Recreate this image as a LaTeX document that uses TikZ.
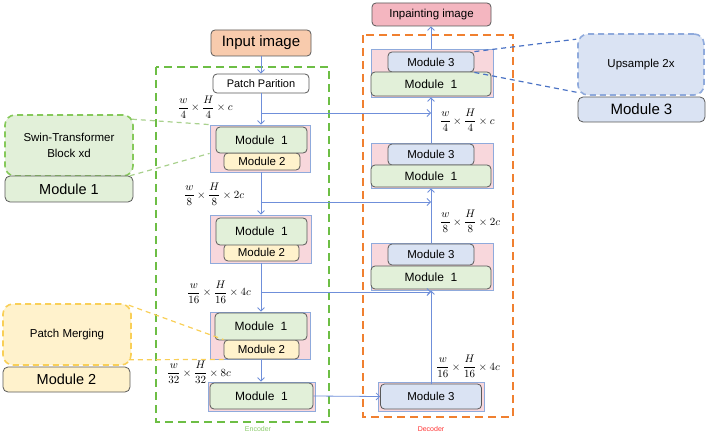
\documentclass[tikz,border=0pt]{standalone}
\usepackage{amsmath}
\usepackage[no-math]{fontspec}
\setmainfont{Liberation Sans}
\usetikzlibrary{arrows.meta}
\definecolor{gfill}{HTML}{E2F0D9}
\definecolor{yfill}{HTML}{FFF2CC}
\definecolor{bfill}{HTML}{DAE3F3}
\definecolor{pinkbg}{HTML}{F8D7DC}
\definecolor{stageline}{HTML}{8FAADC}
\definecolor{inpfill}{HTML}{F8CBAD}
\definecolor{outfill}{HTML}{F4B6C0}
\definecolor{arrowc}{HTML}{6F8FDA}
\definecolor{encc}{HTML}{6DBE45}
\definecolor{decc}{HTML}{F08030}
\definecolor{gborder}{HTML}{595959}
\definecolor{swinb}{HTML}{86C95A}
\definecolor{mergeb}{HTML}{F9CF57}
\definecolor{upb}{HTML}{8FAADC}
\definecolor{gline}{HTML}{A9D18E}
\definecolor{yline}{HTML}{F9CF57}
\definecolor{bline}{HTML}{4A72C4}
\newcommand{\fs}[1]{\fontsize{#1}{\dimexpr #1pt*6/5\relax}\selectfont}
\newcommand{\fr}[2]{\dfrac{\mathstrut #1}{\mathstrut #2}}
\begin{document}
\begin{tikzpicture}[x=1pt,y=-1pt,
  box/.style={draw=gborder, rounded corners=4pt, line width=0.8pt, inner sep=0pt, align=center},
  modone/.style={box, fill=gfill},
  modtwo/.style={box, fill=yfill},
  modthree/.style={box, fill=bfill},
  stagebg/.style={draw=stageline, fill=pinkbg, line width=0.8pt, inner sep=0pt},
  flow/.style={draw=arrowc, line width=0.8pt, -{Straight Barb[length=3.5pt,width=7pt]}},
  callout/.style={rounded corners=10pt, line width=1.6pt, dash pattern=on 6pt off 4pt, inner sep=0pt, align=center},
  mathlbl/.style={anchor=west, inner sep=0pt, font=\fs{11}},
]
\useasboundingbox (0,0) rectangle (708,435);

% containers
\draw[encc, line width=2pt, dash pattern=on 8pt off 5pt] (156,67) rectangle (329,422);
\draw[decc, line width=2pt, dash pattern=on 8pt off 5pt] (363,35) rectangle (513,417);
\node[text=encc!80!white, font=\fs{7}] (enclbl) at (258,429) {Encoder};
\node[text=red!80!white, font=\fs{7}] (declbl) at (431,429) {Decoder};

% encoder column
\node[box, fill=inpfill, minimum width=100pt, minimum height=26pt, font=\fs{15}] (inp) at (261,43) {Input image};
\node[box, fill=white, minimum width=96pt, minimum height=19pt, font=\fs{11}] (pp) at (261,83.5) {Patch Parition};

\node[stagebg, minimum width=100pt, minimum height=47pt] (e1bg) at (260,148.5) {};
\node[modtwo, minimum width=76pt, minimum height=17pt, font=\fs{11.5}] (e1m2) at (262,161.5) {Module 2};
\node[modone, minimum width=91pt, minimum height=26pt, font=\fs{12}] (e1m1) at (261.5,140) {Module\ \ 1};

\node[stagebg, minimum width=101pt, minimum height=48pt] (e2bg) at (260.5,239) {};
\node[modtwo, minimum width=75pt, minimum height=17pt, font=\fs{11.5}] (e2m2) at (261.5,252.5) {Module 2};
\node[modone, minimum width=91pt, minimum height=27pt, font=\fs{12}] (e2m1) at (261.5,231.5) {Module\ \ 1};

\node[stagebg, minimum width=100pt, minimum height=47pt] (e3bg) at (260,335.5) {};
\node[modtwo, minimum width=75pt, minimum height=19pt, font=\fs{11.5}] (e3m2) at (261.5,349.5) {Module 2};
\node[modone, minimum width=92pt, minimum height=27pt, font=\fs{12}] (e3m1) at (261,326.5) {Module\ \ 1};

\node[stagebg, minimum width=107pt, minimum height=29pt] (e4bg) at (261.5,396.5) {};
\node[modone, minimum width=103pt, minimum height=26pt, font=\fs{12}] (e4m1) at (261.5,396) {Module\ \ 1};

% decoder column
\node[box, fill=outfill, minimum width=119pt, minimum height=23pt, font=\fs{11.5}] (outp) at (431.5,14.5) {Inpainting image};

\node[stagebg, minimum width=122pt, minimum height=48pt] (d1bg) at (432,73) {};
\node[modthree, minimum width=86pt, minimum height=20pt, font=\fs{11.5}] (d1m3) at (431,62) {Module 3};
\node[modone, minimum width=120pt, minimum height=24pt, font=\fs{12}] (d1m1) at (431,84) {Module\ \ 1};

\node[stagebg, minimum width=122pt, minimum height=45pt] (d2bg) at (432,165.5) {};
\node[modthree, minimum width=86pt, minimum height=21pt, font=\fs{11.5}] (d2m3) at (431,154.5) {Module 3};
\node[modone, minimum width=120pt, minimum height=22pt, font=\fs{12}] (d2m1) at (431,176) {Module\ \ 1};

\node[stagebg, minimum width=122pt, minimum height=47pt] (d3bg) at (432,266.5) {};
\node[modthree, minimum width=86pt, minimum height=21pt, font=\fs{11.5}] (d3m3) at (431,254.5) {Module 3};
\node[modone, minimum width=120pt, minimum height=23pt, font=\fs{12}] (d3m1) at (431,277.5) {Module\ \ 1};

\node[stagebg, minimum width=106pt, minimum height=29pt] (d4bg) at (431,396.5) {};
\node[modthree, minimum width=101pt, minimum height=25pt, font=\fs{11.5}] (d4m3) at (431,396.5) {Module 3};

% legend boxes
\node[callout, draw=swinb, fill=gfill, minimum width=128pt, minimum height=61pt, font=\fs{11.5}] (swin) at (69,145.5) {Swin-Transformer\\[2pt]Block xd};
\node[box, fill=gfill, rounded corners=5pt, minimum width=128pt, minimum height=26pt, font=\fs{14.5}] (lm1) at (69,189) {Module 1};
\node[callout, draw=mergeb, fill=yfill, minimum width=128pt, minimum height=61pt, font=\fs{11.5}] (merge) at (67,334.5) {Patch Merging};
\node[box, fill=yfill, rounded corners=5pt, minimum width=127pt, minimum height=25pt, font=\fs{14.5}] (lm2) at (66.5,379.5) {Module 2};
\node[callout, draw=upb, fill=bfill, minimum width=126pt, minimum height=61pt, font=\fs{11.5}] (up) at (641,64.5) {Upsample 2x};
\node[box, fill=bfill, rounded corners=5pt, minimum width=127pt, minimum height=25pt, font=\fs{15}] (rm3) at (641.5,109.5) {Module 3};

% callout connectors
\draw[gline, line width=1.2pt, dash pattern=on 5pt off 4pt] (swin.north east) ++(-2,5) -- (e1bg.north west);
\draw[gline, line width=1.2pt, dash pattern=on 5pt off 4pt] (swin.south east) ++(-4,-1) -- (e1bg.west |- e1m1.south);
\draw[yline, line width=1.2pt, dash pattern=on 5pt off 4pt] (merge.north east) ++(-3,2) -- (e3m2.north west);
\draw[yline, line width=1.2pt, dash pattern=on 5pt off 4pt] (merge.south east) ++(-3,-6) -- (e3m2.south west);
\draw[bline, line width=1.2pt, dash pattern=on 5pt off 4pt] (d1m3.north east) -- ([shift={(-1,6)}]up.north west);
\draw[bline, line width=1.2pt, dash pattern=on 5pt off 4pt] (d1m3.south east) -- ([shift={(2,-3)}]up.south west);

% encoder flow
\draw[flow] (inp) -- (pp);
\draw[flow] (pp) -- (e1bg.north -| pp.south);
\draw[flow] (e1bg.south -| pp.south) -- (e2bg.north -| pp.south);
\draw[flow] (e2bg.south -| pp.south) -- (e3bg.north -| pp.south);
\draw[flow] (e3bg.south -| pp.south) -- (e4bg.north -| pp.south);

% skip connections
\coordinate (s1) at (261,113);
\coordinate (s2) at (261,202);
\coordinate (s3) at (261,292);
\draw[flow] (s1) -- (s1 -| d4m3.north);
\draw[flow] (s2) -- (s2 -| d4m3.north);
\draw[flow] (s3) -- (s3 -| d4m3.north);
\draw[flow] (e4m1.east) -- (d4m3.west);

% decoder flow
\draw[flow] (d4m3.north) -- (d3bg.south -| d4m3.north);
\draw[flow] (d3bg.north -| d4m3.north) -- (d2bg.south -| d4m3.north);
\draw[flow] (d2bg.north -| d4m3.north) -- (d1bg.south -| d4m3.north);
\draw[flow] (d1bg.north -| d4m3.north) -- (outp.south -| d4m3.north);

% size labels
\node[mathlbl] (l1) at (178,108) {$\fr{w}{4}\times\fr{H}{4}\times c$};
\node[mathlbl] (l2) at (184,195.5) {$\fr{w}{8}\times\fr{H}{8}\times 2c$};
\node[mathlbl] (l3) at (187,293) {$\fr{w}{16}\times\fr{H}{16}\times 4c$};
\node[mathlbl] (l4) at (167,373.5) {$\fr{w}{32}\times\fr{H}{32}\times 8c$};
\node[mathlbl] (r1) at (440,121.5) {$\fr{w}{4}\times\fr{H}{4}\times c$};
\node[mathlbl] (r2) at (440,222.5) {$\fr{w}{8}\times\fr{H}{8}\times 2c$};
\node[mathlbl] (r3) at (436,367.5) {$\fr{w}{16}\times\fr{H}{16}\times 4c$};
\end{tikzpicture}
\end{document}
